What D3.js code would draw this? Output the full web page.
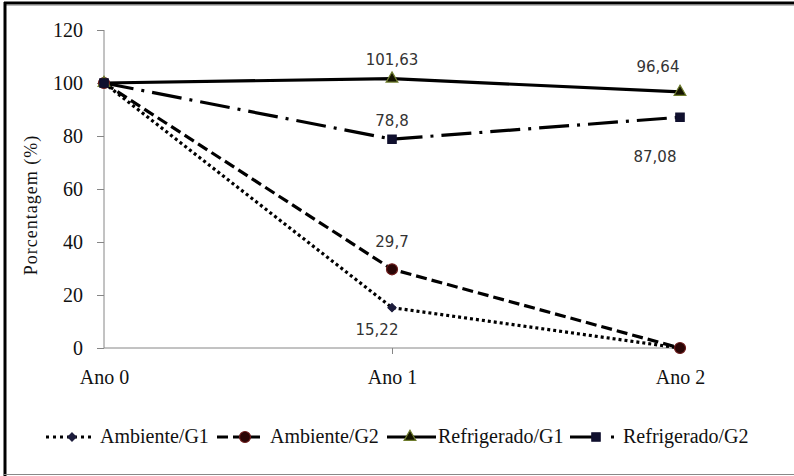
<!DOCTYPE html>
<html>
<head>
<meta charset="utf-8">
<script src="https://cdn.jsdelivr.net/npm/d3@7"></script>
<style>
  html, body { margin: 0; padding: 0; background: #fff; }
  svg { display: block; }
  .serif { font-family: "Liberation Serif", "Times New Roman", Times, "DejaVu Serif", serif; }
  .sans { font-family: "DejaVu Sans", Verdana, sans-serif; }
</style>
</head>
<body>
<svg id="chart" width="794" height="476"></svg>
<script>
// Categories and series
const years = ["Ano 0", "Ano 1", "Ano 2"];
const seriesNames = ["Ambiente/G1", "Ambiente/G2", "Refrigerado/G1", "Refrigerado/G2"];
const ambienteG1 = [100, 15.22, 0];
const ambienteG2 = [100, 29.7, 0];
const refrigeradoG1 = [100, 101.63, 96.64];
const refrigeradoG2 = [100, 78.8, 87.08];
const yTicks = [0, 20, 40, 60, 80, 100, 120];

// Labelled points: [series index, year index]
const labelled = [[0, 1], [1, 1], [2, 1], [2, 2], [3, 1], [3, 2]];

const seriesValues = [ambienteG1, ambienteG2, refrigeradoG1, refrigeradoG2];

// Styling per series
const styles = [
  { dash: "3,3", marker: "diamond", size: 42, fill: "#1c1c3c", stroke: "#1c1c3c", legendDash: "3,4" },
  { dash: "11,5", marker: "circle", size: 95, fill: "#2a0505", stroke: "#6e1c1c", legendDash: "11,5" },
  { dash: null, marker: "triangle", size: 60, fill: "#141400", stroke: "#6f7d2e", legendDash: null },
  { dash: "30,8,3,8", marker: "square", size: 70, fill: "#10102e", stroke: "#10102e", legendDash: "22,19,3,100" }
];

// Label placement relative to its point (dx, dy of baseline)
const labelOffsets = {
  "0-1": [-15, 27],
  "1-1": [0, -22],
  "2-1": [0, -14],
  "2-2": [-22, -20],
  "3-1": [0, -13],
  "3-2": [-25, 45]
};

// Legend layout
const legendY = 437;
const legendItems = [
  { x1: 46, x2: 94, mx: 72, tx: 100 },
  { x1: 217, x2: 264, mx: 245, tx: 270 },
  { x1: 387, x2: 436, mx: 410, tx: 438 },
  { x1: 570, x2: 614, mx: 596, tx: 623 }
];

const svg = d3.select("#chart");

// Frame
svg.append("line").attr("x1", 4).attr("x2", 794).attr("y1", 3).attr("y2", 3)
  .attr("stroke", "#000").attr("stroke-width", 3);
svg.append("line").attr("x1", 4).attr("x2", 794).attr("y1", 5.5).attr("y2", 5.5)
  .attr("stroke", "#bbb").attr("stroke-width", 1);
svg.append("line").attr("x1", 5).attr("x2", 5).attr("y1", 2).attr("y2", 476)
  .attr("stroke", "#000").attr("stroke-width", 3);
svg.append("line").attr("x1", 4).attr("x2", 794).attr("y1", 474.5).attr("y2", 474.5)
  .attr("stroke", "#888").attr("stroke-width", 1);

const x = d3.scalePoint().domain(years).range([104, 680]).padding(0);
const y = d3.scaleLinear().domain([0, 120]).range([348, 30]);

// Y axis
const yAxis = svg.append("g").attr("transform", "translate(104,0)")
  .call(d3.axisLeft(y).tickValues(yTicks).tickSize(7).tickPadding(14).tickFormat(d3.format("d")));
yAxis.attr("font-family", null).attr("font-size", null);
yAxis.select(".domain").attr("stroke", "#868686").attr("d", "M0," + y(120) + "V" + y(0));
yAxis.selectAll(".tick line").attr("stroke", "#868686");
yAxis.selectAll(".tick text").attr("class", "serif").style("font-size", "20px").attr("fill", "#111");

// X axis
const xAxis = svg.append("g").attr("transform", "translate(0,348)")
  .call(d3.axisBottom(x).tickSize(6).tickPadding(16));
xAxis.attr("font-family", null).attr("font-size", null);
xAxis.select(".domain").attr("stroke", "#868686").attr("d", "M104,0H682");
xAxis.selectAll(".tick line").attr("stroke", "#868686").attr("opacity", (d, i) => i === 0 ? 0 : 1);
xAxis.selectAll(".tick text").attr("class", "serif").style("font-size", "20px").attr("fill", "#111");

// Y axis title
svg.append("text")
  .attr("class", "serif")
  .attr("transform", "translate(37,205) rotate(-90)")
  .attr("text-anchor", "middle")
  .style("font-size", "18px").attr("letter-spacing", 1)
  .attr("fill", "#111")
  .text("Porcentagem (%)");

// Marker drawing
const symbolTypes = {
  diamond: d3.symbolDiamond2,
  circle: d3.symbolCircle,
  triangle: d3.symbolTriangle,
  square: d3.symbolSquare
};
function drawMarker(g, st, cx, cy) {
  g.append("path").attr("d", d3.symbol(symbolTypes[st.marker], st.size)())
    .attr("transform", `translate(${cx},${cy})`)
    .attr("fill", st.fill).attr("stroke", st.stroke).attr("stroke-width", 1.2);
}

const line = d3.line().x((d, i) => x(years[i])).y(d => y(d));

// Lines, then markers on top
const plot = svg.append("g");
seriesValues.forEach((vals, s) => {
  plot.append("path").datum(vals)
    .attr("d", line)
    .attr("fill", "none").attr("stroke", "#000").attr("stroke-width", 3.2)
    .attr("stroke-dasharray", styles[s].dash);
});
seriesValues.forEach((vals, s) => {
  vals.forEach((v, i) => drawMarker(plot, styles[s], x(years[i]), y(v)));
});

// Value labels
labelled.forEach(([s, i]) => {
  const v = seriesValues[s][i];
  const off = labelOffsets[s + "-" + i];
  svg.append("text")
    .attr("class", "sans")
    .attr("x", x(years[i]) + off[0]).attr("y", y(v) + off[1])
    .attr("text-anchor", "middle")
    .style("font-size", "15px").attr("fill", "#333")
    .text(String(v).replace(".", ","));
});

// Legend
const legend = svg.append("g");
seriesNames.forEach((name, s) => {
  const it = legendItems[s];
  const st = styles[s];
  legend.append("line").attr("x1", it.x1).attr("x2", it.x2)
    .attr("y1", legendY).attr("y2", legendY)
    .attr("stroke", "#000").attr("stroke-width", 3)
    .attr("stroke-dasharray", st.legendDash);
  drawMarker(legend, st, it.mx, legendY);
  legend.append("text").attr("class", "serif")
    .attr("x", it.tx).attr("y", legendY + 6)
    .style("font-size", "20px").attr("fill", "#111")
    .text(name);
});
</script>
</body>
</html>
